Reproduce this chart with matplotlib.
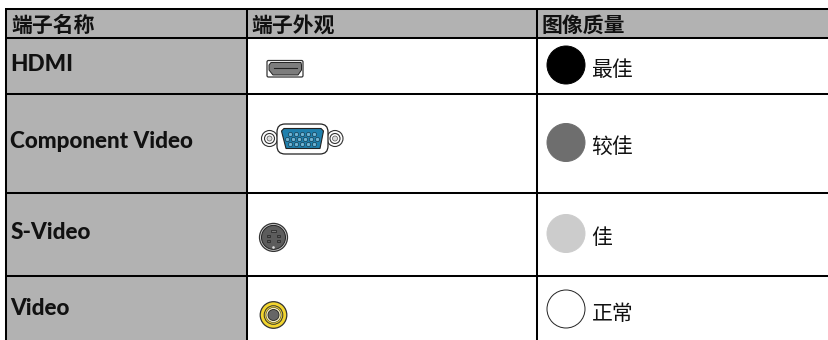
import numpy as np
import matplotlib
matplotlib.use("Agg")
import matplotlib.pyplot as plt
from matplotlib.patches import Circle, Rectangle, FancyBboxPatch, Polygon

plt.rcParams['font.family'] = ['Lato', 'Noto Sans CJK SC', 'DejaVu Sans']
cjk = ['Noto Sans CJK SC', 'DejaVu Sans']

headers = ["端子名称", "端子外观", "图像质量"]
names = ["HDMI", "Component Video", "S-Video", "Video"]
quality = ["最佳", "较佳", "佳", "正常"]
quality_colors = ["#000000", "#6e6e6e", "#cccccc", "#ffffff"]

# table layout in pixels
row_lines = [9, 37.7, 93.7, 192.7, 275.7, 340]
col_lines = [6.5, 246.8, 536.8, 829]
name_y = [70.7, 148.3, 239.3, 315.3]
dot_y = [65, 142.5, 233.5, 309]
quality_y = [70.3, 147, 237.5, 314]

fig = plt.figure(figsize=(8.29, 3.40), dpi=100)
ax = fig.add_axes([0, 0, 1, 1])
ax.set_xlim(0, 829)
ax.set_ylim(340, 0)
ax.axis("off")

# grey fills
ax.add_patch(Rectangle((col_lines[0], row_lines[0]), col_lines[3] - col_lines[0], row_lines[1] - row_lines[0], color="#b2b2b2", lw=0))
ax.add_patch(Rectangle((col_lines[0], row_lines[0]), col_lines[1] - col_lines[0], 340 - row_lines[0], color="#b2b2b2", lw=0))

for y in row_lines[:-1]:
    ax.plot([col_lines[0] - 1, 829], [y, y], color="black", lw=1.45, solid_capstyle="butt")
for x in col_lines[:-1]:
    ax.plot([x, x], [row_lines[0], 340], color="black", lw=1.45, solid_capstyle="butt")

# text
for i, h in enumerate(headers):
    ax.text(col_lines[i] + 4.5, 25, h, fontsize=15, fontweight="bold", va="center", color="#111111", family=cjk)
for name, y in zip(names, name_y):
    ax.text(10.5, y, name, fontsize=16.2, fontweight="black", va="baseline", color="#111111")
for q, c, dy, qy in zip(quality, quality_colors, dot_y, quality_y):
    ax.add_patch(Circle((566, dy), 19, fc=c, ec="#222222" if c == "#ffffff" else c, lw=0.7))
    ax.text(591.5, qy, q, fontsize=15, va="center", color="#111111", family=cjk)

# HDMI port
ax.add_patch(FancyBboxPatch((267, 60.5), 36, 16.5, boxstyle="round,pad=0,rounding_size=1.5", fc="white", ec="#333333", lw=0.9))
ax.add_patch(Polygon([(269, 65), (271, 62.5), (301, 62.5), (301.5, 65), (301.5, 70), (298, 75), (273, 75), (269, 70)], fc="#7d7d7d", ec="#222222", lw=0.7))
ax.plot([274, 297], [67.5, 67.5], color="#222222", lw=0.8)

# VGA port
for sx in [269.5, 335]:
    ax.add_patch(Circle((sx, 138.5), 8, fc="white", ec="#333333", lw=0.8))
    ax.add_patch(Circle((sx, 138.5), 5, fc="white", ec="#333333", lw=0.8))
    ax.add_patch(Circle((sx, 138.5), 2.5, fc="#dddddd", ec="#555555", lw=0.5))
ax.add_patch(FancyBboxPatch((277, 124), 51, 30, boxstyle="round,pad=0,rounding_size=8", fc="white", ec="#222222", lw=0.9))
ax.add_patch(Polygon([(284, 128.5), (321, 128.5), (323.5, 131), (320, 148.5), (286, 148.5), (281.5, 131)], fc="#1f80ad", ec="#222222", lw=0.8))
for row_y, xs in zip([133.5, 138.5, 143.5], [np.arange(290, 318, 6), np.arange(287, 320, 6), np.arange(290, 318, 6)]):
    ax.scatter(xs, [row_y] * len(xs), s=9, fc="#6fb3d2", ec="#123a50", lw=0.5, zorder=3)

# S-Video port
ax.add_patch(Circle((273.5, 237.4), 14, fc="#cccccc", ec="#333333", lw=0.9))
ax.add_patch(Circle((273.5, 237.4), 12, fc="#5c5c5c", ec="#222222", lw=0.7))
for px, py in [(268.5, 236), (278.5, 236), (268.5, 241), (278.5, 241)]:
    ax.add_patch(Rectangle((px - 1.3, py - 1.3), 2.6, 2.6, fc="#5c5c5c", ec="#222222", lw=0.5))
ax.add_patch(Rectangle((271, 230), 5, 2.2, fc="#777777", ec="#222222", lw=0.5))
ax.add_patch(Circle((273.5, 247.5), 1.3, fc="#dddddd", ec="none"))

# RCA port
ax.add_patch(Circle((273.5, 315), 13.3, fc="#f2d52e", ec="#333333", lw=0.9))
ax.add_patch(Circle((273.5, 315), 9.3, fc="#f2d52e", ec="#333333", lw=0.7))
ax.add_patch(Circle((273.5, 315), 7.5, fc="#f7f0c0", ec="#333333", lw=0.4))
ax.add_patch(Circle((273.5, 315), 5.5, fc="#666666", ec="#222222", lw=0.6))

fig.savefig("out.png", dpi=100)
